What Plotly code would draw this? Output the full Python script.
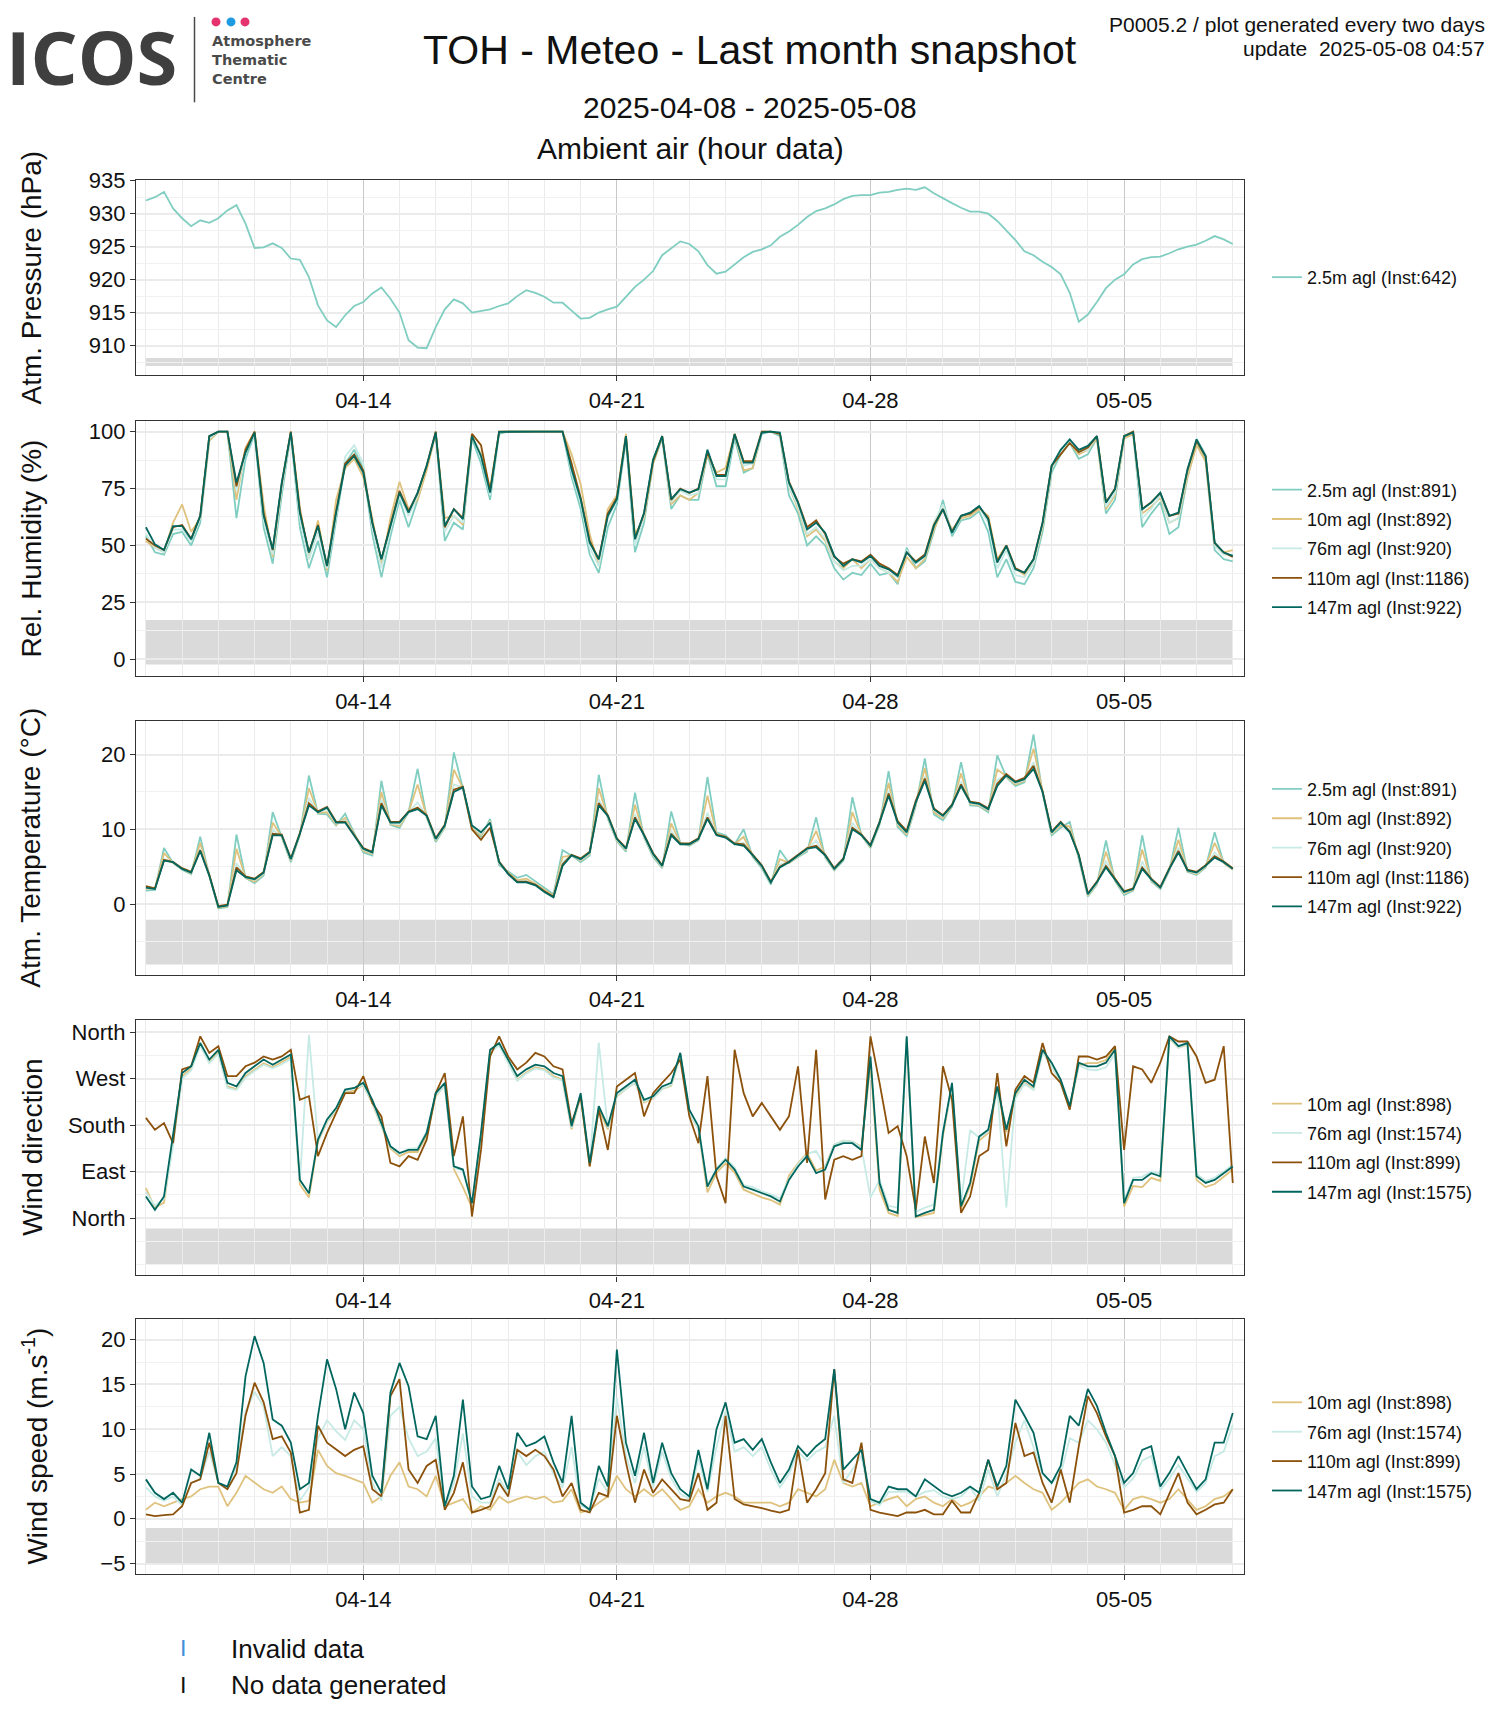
import pandas as pd
import plotly.graph_objects as go

W, H = 1500, 1725
START = "2025-04-08 00:00"
STEP = "6h"

# ---------------- data (6-hourly, 2025-04-08 00:00 -> 2025-05-08 00:00) ----------------
pressure_2_5m = [
    932.0, 932.5, 933.3, 930.8, 929.3, 928.1, 929.0, 928.6, 929.3, 930.5, 931.3, 928.5,
    924.8, 924.9, 925.5, 924.8, 923.2, 923.0, 920.4, 916.1, 913.8, 912.8, 914.6, 916.0,
    916.6, 917.9, 918.8, 917.1, 915.0, 910.8, 909.7, 909.6, 912.8, 915.5, 917.0, 916.4,
    915.0, 915.3, 915.5, 916.0, 916.4, 917.5, 918.4, 918.0, 917.4, 916.5, 916.5, 915.3,
    914.1, 914.2, 915.0, 915.5, 915.9, 917.4, 918.9, 920.0, 921.3, 923.7, 924.8, 925.8,
    925.4, 924.3, 922.2, 920.9, 921.2, 922.3, 923.4, 924.2, 924.6, 925.2, 926.5, 927.3,
    928.3, 929.5, 930.4, 930.8, 931.4, 932.2, 932.7, 932.8, 932.8, 933.2, 933.3, 933.6,
    933.8, 933.6, 934.0, 933.1, 932.3, 931.6, 930.9, 930.3, 930.3, 930.0, 928.9, 927.5,
    926.0, 924.3, 923.7, 922.7, 921.9, 920.8, 918.0, 913.6, 914.7, 916.6, 918.7, 920.0,
    920.8, 922.3, 923.1, 923.4, 923.5, 924.0, 924.6, 925.0, 925.3, 925.9, 926.6, 926.1,
    925.4,
]

rh_2_5m = [
    54, 47, 46, 55, 56, 50, 60, 96, 100, 100, 62, 88, 99, 58, 42, 72, 99, 58, 40, 52,
    36, 60, 86, 92, 84, 55, 36, 54, 70, 58, 70, 84, 99, 52, 60, 57, 97, 86, 70, 99,
    100, 100, 100, 100, 100, 100, 100, 80, 66, 46, 38, 58, 68, 96, 47, 60, 86, 97, 66, 72,
    70, 70, 90, 76, 76, 97, 82, 84, 99, 100, 98, 72, 64, 50, 54, 50, 40, 35, 38, 37,
    42, 37, 38, 33, 49, 40, 43, 56, 70, 54, 61, 62, 65, 56, 36, 44, 34, 33, 40, 56,
    82, 90, 95, 88, 90, 97, 64, 70, 97, 99, 58, 64, 69, 55, 58, 80, 95, 87, 48, 44,
    43,
]
rh_10m = [
    52, 49, 47, 60, 68, 56, 62, 96, 100, 100, 70, 93, 100, 68, 45, 76, 100, 67, 44, 61,
    39, 70, 84, 88, 80, 62, 41, 62, 78, 66, 70, 83, 99, 62, 63, 59, 98, 90, 75, 100,
    100, 100, 100, 100, 100, 100, 100, 90, 77, 55, 41, 66, 72, 99, 55, 62, 86, 98, 68, 72,
    70, 73, 90, 82, 84, 99, 83, 84, 100, 100, 99, 76, 66, 54, 57, 52, 43, 40, 44, 40,
    44, 40, 38, 34, 45, 40, 44, 57, 66, 57, 62, 63, 66, 63, 44, 50, 40, 37, 42, 58,
    84, 91, 95, 90, 92, 97, 66, 72, 97, 99, 64, 67, 71, 60, 62, 80, 94, 87, 50, 47,
    48,
]
rh_76m = [
    55, 49, 47, 57, 57, 52, 62, 97, 100, 100, 74, 91, 99, 61, 46, 75, 99, 62, 44, 56,
    40, 63, 89, 94, 86, 58, 40, 57, 72, 63, 72, 86, 99, 56, 63, 60, 98, 89, 72, 100,
    100, 100, 100, 100, 100, 100, 100, 82, 69, 49, 41, 62, 70, 98, 50, 63, 88, 98, 69, 74,
    72, 73, 92, 79, 79, 99, 85, 86, 100, 100, 99, 76, 67, 55, 58, 53, 43, 39, 41, 41,
    44, 40, 38, 36, 48, 42, 45, 60, 68, 56, 63, 64, 67, 60, 40, 48, 37, 36, 42, 59,
    84, 91, 96, 91, 92, 98, 67, 73, 98, 100, 62, 66, 72, 60, 62, 82, 97, 90, 50, 46,
    46,
]
rh_110m = [
    53, 50, 48, 58, 59, 53, 63, 98, 100, 100, 76, 92, 100, 64, 48, 77, 100, 65, 47, 59,
    41, 65, 86, 90, 83, 60, 44, 59, 74, 65, 73, 85, 100, 58, 66, 62, 99, 94, 74, 100,
    100, 100, 100, 100, 100, 100, 100, 86, 71, 52, 44, 64, 71, 98, 53, 64, 87, 98, 70, 75,
    73, 75, 91, 81, 81, 99, 87, 87, 100, 100, 99, 78, 69, 58, 61, 55, 45, 42, 44, 43,
    46, 42, 40, 37, 47, 43, 46, 59, 66, 56, 63, 64, 67, 62, 43, 50, 40, 38, 44, 60,
    85, 90, 95, 91, 93, 98, 69, 75, 98, 100, 66, 69, 73, 63, 64, 83, 96, 89, 51, 47,
    45,
]
rh_147m = [
    58, 50.5, 48, 58.5, 58.5, 52.7, 63, 98, 100, 100, 77.6, 90.8, 99.6, 63, 48.3, 77.6,
    99.6, 64.4, 46.9, 58.6, 41, 64.4, 85, 89.3, 82, 60, 43.9, 58.6, 73.2, 64.4, 73.2, 85,
    99.6, 58.6, 65.9, 61.5, 98, 89.3, 73.2, 99.9, 100, 100, 100, 100, 100, 100, 100, 83.5,
    70.3, 51.2, 43.9, 63, 70.3, 98, 52.7, 64.4, 87.8, 98, 70.3, 74.7, 73.2, 74.7, 92, 80.5,
    80.5, 98.8, 86.4, 86.4, 99.6, 100, 99.6, 77.6, 68.8, 57, 60, 55.6, 45.4, 41, 43.9, 42.5,
    45.4, 41, 39.5, 36.6, 46.9, 42.5, 45.4, 58.6, 65.9, 55.6, 63, 64.4, 67.3, 61.5, 42.5, 49.8,
    39.5, 38.1, 43.9, 60, 85, 92, 96.6, 92, 93.7, 98, 68.8, 74.7, 98, 99.6, 65.9, 68.8,
    73.2, 63, 64.4, 83.5, 96.6, 89.3, 51.2, 46.9, 45.4,
]

temp_2_5m = [
    1.8, 1.9, 7.5, 5.5, 4.6, 4.0, 9.0, 3.8, -0.6, -0.4, 9.3, 3.5, 2.8, 3.8, 12.3, 8.8,
    5.6, 9.2, 17.2, 12.1, 12.0, 10.5, 12.1, 9.5, 6.9, 6.5, 16.5, 10.6, 10.2, 12.3, 18.1, 11.6,
    8.3, 10.2, 20.3, 15.5, 10.0, 9.0, 11.4, 5.2, 4.4, 3.5, 3.9, 3.0, 2.2, 1.3, 7.2, 6.5,
    5.6, 6.5, 17.3, 11.4, 8.4, 7.0, 14.9, 8.9, 6.3, 4.8, 12.4, 8.2, 7.8, 8.5, 17.0, 9.6,
    9.2, 8.0, 10.0, 6.3, 4.8, 2.6, 7.2, 5.5, 6.3, 7.0, 11.6, 6.2, 4.5, 5.8, 14.3, 9.2,
    7.5, 10.6, 17.8, 10.3, 9.1, 13.1, 19.5, 12.0, 11.2, 13.0, 19.0, 13.2, 13.1, 12.3, 19.9, 17.0,
    15.8, 16.3, 22.7, 14.8, 9.2, 10.2, 11.0, 6.1, 1.0, 2.6, 8.5, 3.1, 1.2, 1.8, 9.2, 3.0,
    2.0, 4.5, 10.2, 4.3, 3.9, 4.9, 9.6, 5.5, 4.6,
]
temp_10m = [
    2.0, 2.0, 6.8, 5.5, 4.7, 4.1, 8.2, 3.8, -0.5, -0.3, 7.4, 3.5, 3.0, 4.0, 10.9, 9.0,
    5.8, 9.3, 15.5, 12.2, 12.3, 10.6, 11.5, 9.3, 7.1, 6.7, 15.0, 10.7, 10.4, 12.3, 16.0, 11.7,
    8.5, 10.3, 18.0, 15.5, 10.2, 9.2, 11.1, 5.4, 4.2, 3.2, 3.4, 2.7, 1.9, 1.1, 6.3, 6.5,
    5.8, 6.7, 15.5, 11.6, 8.5, 7.2, 13.3, 9.0, 6.5, 4.9, 10.8, 8.1, 7.9, 8.6, 14.5, 9.4,
    9.0, 8.0, 9.0, 6.4, 5.0, 2.8, 6.0, 5.5, 6.4, 7.2, 9.8, 6.3, 4.6, 5.9, 12.3, 9.2,
    7.6, 10.8, 16.2, 10.6, 9.3, 13.3, 18.2, 12.3, 11.5, 13.1, 17.5, 13.4, 13.2, 12.5, 18.0, 17.1,
    16.0, 16.5, 20.8, 14.9, 9.4, 10.5, 10.4, 6.3, 1.1, 2.7, 7.0, 3.2, 1.4, 1.9, 7.3, 3.1,
    2.1, 4.6, 8.6, 4.4, 4.0, 5.0, 8.2, 5.5, 4.6,
]
temp_76m = [
    2.1, 2.0, 6.0, 5.6, 4.7, 4.2, 7.4, 3.8, -0.4, -0.2, 5.5, 3.6, 3.2, 4.1, 9.9, 9.1,
    5.9, 9.4, 14.2, 12.3, 12.7, 10.8, 11.2, 9.2, 7.3, 6.8, 14.0, 10.8, 10.7, 12.3, 13.6, 11.8,
    8.6, 10.4, 16.0, 15.6, 10.4, 9.4, 11.0, 5.5, 4.1, 3.0, 3.1, 2.6, 1.7, 1.0, 5.6, 6.5,
    5.9, 6.8, 14.0, 11.7, 8.6, 7.3, 12.0, 9.1, 6.6, 5.0, 9.8, 8.0, 8.0, 8.7, 12.2, 9.3,
    8.9, 8.0, 8.2, 6.5, 5.1, 2.9, 5.3, 5.6, 6.5, 7.3, 8.5, 6.4, 4.7, 6.0, 10.9, 9.2,
    7.7, 10.9, 15.2, 10.8, 9.5, 13.5, 17.1, 12.6, 11.7, 13.2, 16.4, 13.5, 13.3, 12.6, 16.6, 17.2,
    16.2, 16.6, 19.0, 15.0, 9.5, 10.8, 9.9, 6.4, 1.2, 2.8, 5.8, 3.3, 1.5, 2.0, 5.7, 3.2,
    2.2, 4.7, 7.6, 4.5, 4.1, 5.1, 6.9, 5.6, 4.7,
]
temp_110m = [
    2.4, 2.1, 5.9, 5.6, 4.8, 4.3, 7.2, 3.9, -0.3, -0.1, 4.9, 3.7, 3.4, 4.3, 9.4, 9.3,
    6.1, 9.5, 13.5, 12.4, 13.0, 11.0, 11.0, 9.3, 7.5, 7.0, 13.5, 11.0, 11.0, 12.4, 12.9, 11.9,
    8.8, 10.6, 15.3, 15.7, 10.0, 8.6, 10.2, 5.7, 4.1, 3.0, 3.0, 2.6, 1.7, 1.0, 5.3, 6.6,
    6.1, 7.0, 13.5, 11.9, 8.8, 7.5, 11.6, 9.3, 6.8, 5.2, 9.4, 8.1, 8.1, 8.8, 11.6, 9.3,
    9.0, 8.1, 8.0, 6.6, 5.2, 3.0, 5.0, 5.7, 6.6, 7.5, 7.8, 6.6, 4.8, 6.1, 10.2, 9.3,
    7.9, 11.0, 14.8, 11.1, 9.8, 13.8, 16.8, 12.8, 11.9, 13.3, 16.0, 13.7, 13.5, 12.8, 16.1, 17.4,
    16.4, 16.9, 18.5, 15.1, 9.7, 11.0, 9.7, 6.6, 1.4, 3.0, 5.1, 3.4, 1.7, 2.1, 4.9, 3.4,
    2.3, 4.8, 7.1, 4.6, 4.3, 5.2, 6.4, 5.7, 4.8,
]
temp_147m = [
    2.2, 2.0, 5.8, 5.6, 4.7, 4.2, 7.1, 3.8, -0.4, -0.2, 4.5, 3.6, 3.3, 4.2, 9.2, 9.2,
    6.0, 9.4, 13.2, 12.3, 12.9, 10.9, 10.9, 9.2, 7.4, 6.9, 13.2, 10.9, 10.9, 12.3, 12.7, 11.8,
    8.7, 10.5, 15.0, 15.6, 10.5, 9.6, 10.9, 5.6, 4.0, 2.9, 2.9, 2.5, 1.6, 0.9, 5.1, 6.5,
    6.0, 6.9, 13.2, 11.8, 8.7, 7.4, 11.4, 9.2, 6.7, 5.1, 9.2, 8.0, 8.0, 8.7, 11.4, 9.2,
    8.9, 8.0, 7.8, 6.5, 5.1, 2.9, 4.9, 5.6, 6.5, 7.4, 7.6, 6.5, 4.7, 6.0, 10.0, 9.2,
    7.8, 10.9, 14.5, 10.9, 9.6, 13.6, 16.5, 12.7, 11.8, 13.2, 15.8, 13.6, 13.4, 12.7, 15.8, 17.2,
    16.3, 16.7, 18.1, 15.0, 9.6, 10.9, 9.6, 6.5, 1.3, 2.9, 4.9, 3.3, 1.6, 2.0, 4.7, 3.3,
    2.2, 4.7, 6.9, 4.5, 4.2, 5.1, 6.2, 5.6, 4.7,
]

wdir_10m = [
    58, 20, 30, 150, 275, 290, 336, 302, 322, 255, 250, 275, 288, 300, 292, 302,
    312, 65, 40, 148, 186, 208, 244, 247, 258, 222, 178, 135, 120, 128, 128, 160,
    236, 258, 95, 60, 20, 160, 322, 336, 302, 268, 282, 292, 288, 275, 268, 172,
    236, 100, 212, 172, 236, 250, 262, 224, 232, 250, 256, 316, 204, 172, 50, 88,
    106, 88, 55, 48, 40, 35, 26, 82, 106, 126, 92, 100, 142, 150, 148, 138,
    300, 55, 10, 4, 348, 2, 6, 10, 160, 255, 18, 62, 150, 165, 250, 166,
    236, 262, 250, 322, 296, 262, 212, 296, 300, 300, 306, 330, 22, 62, 60, 78,
    72, 348, 330, 336, 74, 60, 66, 80, 94,
]
wdir_76m = [
    50, 24, 38, 140, 270, 286, 334, 300, 318, 252, 248, 272, 285, 297, 290, 298,
    308, 70, 355, 150, 188, 210, 246, 250, 258, 224, 180, 138, 124, 134, 136, 168,
    238, 256, 98, 92, 26, 162, 320, 335, 300, 266, 280, 290, 286, 272, 266, 175,
    238, 104, 340, 175, 238, 250, 262, 226, 232, 250, 258, 318, 206, 172, 64, 96,
    116, 98, 64, 60, 52, 46, 38, 76, 104, 124, 130, 98, 142, 150, 148, 136,
    40, 74, 24, 20, 350, 12, 20, 26, 170, 250, 30, 170, 156, 168, 250, 20,
    232, 260, 248, 320, 294, 260, 214, 296, 288, 286, 292, 318, 34, 78, 80, 90,
    86, 350, 330, 338, 86, 72, 78, 90, 104,
]
wdir_110m = [
    194, 171, 184, 145, 288, 294, 352, 320, 333, 275, 275, 294, 301, 313, 307, 313,
    326, 229, 236, 120, 165, 204, 242, 242, 275, 223, 197, 107, 100, 120, 113, 152,
    242, 281, 120, 197, 3, 132, 313, 352, 313, 288, 301, 320, 313, 294, 288, 184,
    236, 100, 210, 132, 255, 268, 281, 197, 242, 262, 281, 307, 197, 145, 275, 81,
    29, 326, 242, 197, 223, 197, 171, 197, 294, 107, 326, 36, 113, 120, 113, 120,
    352, 262, 165, 178, 120, 16, 158, 68, 294, 229, 10, 42, 120, 132, 281, 139,
    249, 275, 262, 339, 281, 262, 210, 313, 313, 307, 313, 333, 132, 294, 288, 262,
    301, 352, 342, 342, 313, 262, 268, 333, 68,
]
wdir_147m = [
    42, 16, 42, 158, 281, 294, 339, 307, 326, 262, 255, 281, 294, 307, 297, 307,
    317, 74, 48, 152, 191, 213, 249, 252, 262, 229, 184, 139, 126, 132, 132, 165,
    242, 262, 100, 94, 29, 165, 326, 339, 307, 275, 288, 297, 294, 281, 275, 178,
    242, 107, 217, 178, 242, 255, 268, 229, 236, 255, 262, 320, 210, 178, 61, 94,
    113, 94, 61, 55, 48, 42, 32, 74, 100, 120, 87, 94, 139, 145, 145, 132,
    313, 68, 16, 10, 352, 3, 10, 16, 165, 262, 23, 68, 158, 171, 255, 171,
    242, 268, 255, 326, 301, 268, 217, 301, 294, 294, 301, 326, 29, 74, 74, 87,
    81, 352, 333, 339, 81, 68, 74, 87, 100,
]

wspd_10m = [
    1.0, 1.8, 1.4, 1.8, 2.2, 2.5, 3.3, 3.6, 3.6, 1.4, 2.9, 4.8, 4.0, 3.3, 2.9, 3.6,
    2.2, 1.8, 2.0, 7.7, 5.9, 5.1, 4.8, 4.4, 4.0, 1.8, 2.5, 4.8, 6.3, 3.6, 3.3, 2.5,
    4.8, 1.4, 1.8, 2.2, 0.7, 1.4, 1.0, 2.5, 1.8, 2.2, 2.5, 2.2, 2.5, 1.8, 2.0, 3.3,
    0.7, 1.0, 1.8, 2.5, 4.8, 3.3, 2.5, 3.3, 2.5, 3.3, 2.2, 1.0, 1.4, 3.3, 1.8, 2.5,
    2.9, 2.5, 1.8, 1.8, 1.8, 1.8, 1.4, 1.8, 3.3, 2.9, 2.5, 3.3, 6.6, 4.0, 3.6, 4.0,
    1.4, 1.8, 2.2, 2.5, 1.4, 2.2, 2.5, 1.8, 1.4, 2.2, 1.4, 1.8, 2.5, 3.6, 3.3, 4.0,
    4.8, 4.0, 3.3, 2.9, 1.0, 1.8, 2.9, 4.0, 4.4, 3.6, 3.3, 2.9, 1.0, 2.2, 2.5, 2.2,
    1.8, 2.2, 3.3, 2.2, 1.0, 1.4, 2.2, 2.5, 3.3,
]
wspd_76m = [
    3.5, 2.5, 2.0, 2.5, 1.5, 4.0, 4.5, 7.5, 4.0, 3.4, 5.8, 12.0, 14.2, 12.5, 7.0, 8.0,
    7.0, 2.0, 3.5, 9.0, 11.0, 9.8, 8.8, 11.0, 10.0, 4.0, 2.0, 11.5, 12.5, 9.0, 7.0, 7.5,
    9.0, 1.2, 4.0, 9.5, 2.5, 1.8, 1.8, 4.5, 2.8, 7.5, 6.0, 7.0, 7.5, 5.0, 3.5, 8.0,
    1.5, 1.0, 4.5, 3.0, 13.5, 7.0, 4.0, 8.0, 3.5, 7.5, 4.5, 2.8, 2.2, 6.8, 3.0, 8.0,
    12.0, 7.5, 8.0, 7.0, 8.0, 5.5, 3.5, 5.0, 7.5, 6.5, 7.5, 8.0, 11.5, 4.0, 5.5, 7.0,
    2.0, 1.5, 3.0, 3.0, 3.0, 2.5, 3.0, 3.2, 2.5, 2.2, 2.5, 3.5, 2.0, 5.5, 2.5, 5.0,
    8.5, 11.0, 8.0, 5.0, 4.0, 5.0, 9.0, 8.5, 11.0, 10.0, 8.5, 6.0, 3.5, 4.5, 6.5, 7.0,
    3.2, 4.5, 6.0, 4.5, 3.0, 4.0, 7.0, 7.5, 10.5,
]
wspd_110m = [
    0.5, 0.3, 0.4, 0.5, 1.4, 4.0, 4.4, 8.5, 4.0, 3.3, 5.1, 11.5, 15.2, 13.0, 8.9, 9.2,
    7.4, 0.7, 1.0, 10.4, 8.5, 7.7, 7.0, 7.7, 8.1, 3.3, 2.5, 13.7, 15.6, 5.5, 4.0, 5.9,
    6.6, 1.0, 2.9, 6.3, 0.7, 1.0, 1.4, 4.0, 2.5, 7.7, 7.0, 7.7, 7.0, 5.5, 2.5, 4.0,
    1.0, 0.7, 2.9, 2.5, 11.5, 6.3, 1.8, 5.5, 2.9, 4.4, 3.3, 2.2, 2.0, 5.1, 1.0, 1.8,
    11.5, 2.2, 1.6, 1.4, 1.2, 0.9, 0.7, 1.0, 7.7, 1.8, 3.3, 5.1, 16.7, 4.4, 4.0, 8.5,
    1.0, 0.7, 0.5, 0.3, 0.7, 0.7, 1.0, 0.5, 0.5, 2.0, 0.7, 0.7, 2.9, 6.6, 3.3, 4.0,
    10.7, 7.0, 7.4, 4.0, 1.8, 5.5, 1.8, 8.1, 13.7, 11.8, 9.2, 7.0, 0.7, 1.0, 1.4, 1.4,
    0.5, 2.9, 5.1, 1.8, 0.5, 1.0, 1.6, 1.8, 3.3,
]
wspd_147m = [
    4.4, 2.9, 2.2, 2.9, 1.8, 5.5, 4.8, 9.6, 4.0, 3.6, 6.3, 15.9, 20.4, 17.4, 11.1, 10.4,
    8.5, 3.3, 4.0, 11.5, 17.8, 14.5, 10.0, 14.1, 11.8, 4.8, 2.9, 14.1, 17.4, 14.8, 9.2, 8.9,
    11.5, 1.4, 4.8, 13.3, 3.6, 2.2, 2.5, 5.9, 3.3, 9.6, 8.1, 8.5, 9.2, 6.3, 4.0, 11.5,
    1.8, 1.0, 5.9, 3.6, 18.9, 8.5, 4.8, 9.6, 4.0, 8.5, 5.1, 3.3, 2.5, 7.7, 3.3, 10.0,
    13.0, 8.5, 8.9, 7.7, 8.9, 6.3, 4.0, 5.5, 8.1, 7.0, 8.1, 8.9, 16.7, 5.5, 6.6, 7.7,
    2.2, 1.8, 3.6, 3.3, 3.3, 2.5, 4.4, 3.6, 2.9, 2.5, 2.9, 3.6, 2.9, 6.6, 3.6, 5.9,
    13.3, 11.5, 9.6, 5.1, 4.0, 5.9, 11.5, 10.4, 14.5, 12.6, 9.6, 7.0, 4.0, 5.1, 7.7, 8.1,
    3.6, 5.1, 7.0, 5.1, 3.3, 4.4, 8.5, 8.5, 11.8,
]

inst_pressure = {"2.5m": 642}
inst_ambient = {"2.5m": 891, "10m": 892, "76m": 920, "110m": 1186, "147m": 922}
inst_wind = {"10m": 898, "76m": 1574, "110m": 899, "147m": 1575}
dir_ticks = [0, 90, 180, 270, 360]
dir_labels = ["North", "East", "South", "West", "North"]
week_ticks = ["2025-04-14", "2025-04-21", "2025-04-28", "2025-05-05"]

# ---------------- styling ----------------
COLORS = {"2.5m": "#80CDC1", "10m": "#DFC27D", "76m": "#C7EAE5",
          "110m": "#8C510A", "147m": "#01665E"}
FONT = "Liberation Sans, Arial, Helvetica, sans-serif"


def tgrid(values):
    return pd.date_range(START, periods=len(values), freq=STEP)


def fx(p):
    return p / W


def fy(p):
    return 1 - p / H


X_RANGE = ["2025-04-07 17:27", "2025-05-08 07:26"]
PLOT_L, PLOT_R = 136, 1244

panels = [
    dict(series={"2.5m": pressure_2_5m}, inst=inst_pressure, top=170, bot=367,
         rng=[905.5, 935.15], band=[906.9, 908.1], dtick=5, tick0=910, minor=2.5,
         title="Atm. Pressure (hPa)", tx=31),
    dict(series={"2.5m": rh_2_5m, "10m": rh_10m, "76m": rh_76m, "110m": rh_110m, "147m": rh_147m},
         inst=inst_ambient, top=413, bot=670, rng=[-7.3, 104.7], band=[-2.3, 17.3],
         dtick=25, tick0=0, minor=12.5, title="Rel. Humidity (%)", tx=31),
    dict(series={"2.5m": temp_2_5m, "10m": temp_10m, "76m": temp_76m, "110m": temp_110m, "147m": temp_147m},
         inst=inst_ambient, top=715, bot=971, rng=[-9.46, 24.55], band=[-8.1, -2.1],
         dtick=10, tick0=0, minor=5, title="Atm. Temperature (°C)", tx=31),
    dict(series={"10m": wdir_10m, "76m": wdir_76m, "110m": wdir_110m, "147m": wdir_147m},
         inst=inst_wind, top=1017, bot=1274, rng=[-111, 383], band=[-91, -20],
         dtick=90, tick0=0, minor=45, title="Wind direction", cat=True, tx=33),
    dict(series={"10m": wspd_10m, "76m": wspd_76m, "110m": wspd_110m, "147m": wspd_147m},
         inst=inst_wind, top=1318, bot=1575, rng=[-6.18, 22.3], band=[-5.14, -1.04],
         dtick=5, tick0=0, minor=2.5, title="Wind speed (m.s<sup>-1</sup>)", tx=35),
]

fig = go.Figure()
layout = dict(
    width=W, height=H, margin=dict(l=0, r=0, t=0, b=0),
    paper_bgcolor="white", plot_bgcolor="white",
    font=dict(family=FONT, color="#111111"),
)
shapes = []
annotations = []

for k, p in enumerate(panels, start=1):
    xa = "x" if k == 1 else f"x{k}"
    ya = "y" if k == 1 else f"y{k}"
    leg = "legend" if k == 1 else f"legend{k}"
    first_t = None
    last_t = None
    for h, vals in p["series"].items():
        t = tgrid(vals)
        first_t = t[0] if first_t is None else min(first_t, t[0])
        last_t = t[-1] if last_t is None else max(last_t, t[-1])
        fig.add_trace(go.Scatter(
            x=t, y=vals, mode="lines", name=f"{h} agl (Inst:{p['inst'][h]})",
            line=dict(color=COLORS[h], width=1.8), xaxis=xa, yaxis=ya,
            legend=leg, legendgroup=f"{k}-{h}", showlegend=True,
        ))
    # gray availability band
    shapes.append(dict(type="rect", xref=xa, yref=ya, x0=first_t, x1=last_t,
                       y0=p["band"][0], y1=p["band"][1], fillcolor="#DADADA",
                       line=dict(width=0), layer="below"))
    dom_y = [fy(p["bot"]), fy(p["top"])]
    xkey = "xaxis" if k == 1 else f"xaxis{k}"
    ykey = "yaxis" if k == 1 else f"yaxis{k}"
    layout[xkey] = dict(
        domain=[fx(PLOT_L), fx(PLOT_R)], anchor=ya, type="date", range=X_RANGE,
        tickvals=week_ticks, tickformat="%m-%d", ticks="outside", ticklen=5,
        tickcolor="#333333", tickfont=dict(size=22, color="#111111"),
        showgrid=True, gridcolor="#C8C8C8", gridwidth=1.4,
        showline=True, mirror=True, linecolor="#333333", linewidth=1.4,
        zeroline=False,
        minor=dict(tick0="2025-04-08", dtick=86400000, showgrid=True,
                   gridcolor="#EBEBEB", gridwidth=1.1, ticks=""),
    )
    ydict = dict(
        domain=dom_y, anchor=xa, range=p["rng"], ticks="outside", ticklen=5,
        tickcolor="#333333", tickfont=dict(size=22, color="#111111"),
        showgrid=True, gridcolor="#EBEBEB", gridwidth=1.8,
        showline=True, mirror=True, linecolor="#333333", linewidth=1.4,
        zeroline=False,
        minor=dict(tick0=p["tick0"], dtick=p["minor"], showgrid=True,
                   gridcolor="#F1F1F1", gridwidth=1.1, ticks=""),
    )
    if p.get("cat"):
        ydict.update(tickmode="array", tickvals=dir_ticks, ticktext=dir_labels)
    else:
        ydict.update(tick0=p["tick0"], dtick=p["dtick"])
    layout[ykey] = ydict
    layout[leg] = dict(
        x=fx(1267), xanchor="left", y=fy((p["top"] + p["bot"]) / 2), yanchor="middle",
        bgcolor="rgba(0,0,0,0)", font=dict(size=18, color="#111111"),
        traceorder="grouped", tracegroupgap=3, itemwidth=30,
    )
    annotations.append(dict(
        text=p["title"], xref="paper", yref="paper", x=fx(p["tx"]),
        y=fy((p["top"] + p["bot"]) / 2), textangle=-90, showarrow=False,
        xanchor="center", yanchor="middle", font=dict(size=28, color="#111111"),
    ))

# titles
for txt, xx, yy, sz in [("TOH - Meteo - Last month snapshot", 750, 39, 41),
                        ("2025-04-08 - 2025-05-08", 750, 97, 30),
                        ("Ambient air (hour data)", 690, 139, 30)]:
    annotations.append(dict(text=txt, x=fx(xx), y=fy(yy), xref="paper", yref="paper",
                            showarrow=False, xanchor="center", yanchor="middle",
                            font=dict(size=sz)))

for txt, yy in [("P0005.2 / plot generated every two days", 14),
                ("update\u00a0\u00a02025-05-08 04:57", 38)]:
    annotations.append(dict(text=txt, x=fx(1487), y=fy(yy), xref="paper", yref="paper",
                            showarrow=False, xanchor="right", yanchor="middle",
                            font=dict(size=21)))

# logo
annotations.append(dict(text="<b>ICOS</b>", x=fx(4), y=fy(46), xref="paper", yref="paper",
                        showarrow=False, xanchor="left", yanchor="middle",
                        font=dict(size=74, color="#3F3F3F", family="Open Sans, sans-serif")))
annotations.append(dict(text="<b>Atmosphere<br>Thematic<br>Centre</b>", x=fx(210), y=fy(49),
                        xref="paper", yref="paper", showarrow=False, xanchor="left",
                        yanchor="middle", align="left",
                        font=dict(size=14.5, color="#4A4A4A", family="DejaVu Sans, sans-serif")))
shapes.append(dict(type="line", xref="paper", yref="paper", x0=fx(194.5), x1=fx(194.5),
                   y0=fy(6), y1=fy(92), line=dict(color="#4A4A4A", width=1.5)))
for cx, col in [(216, "#E5336F"), (231, "#1E9BE0"), (245, "#E5336F")]:
    shapes.append(dict(type="circle", xref="paper", yref="paper",
                       x0=fx(cx - 4.5), x1=fx(cx + 4.5), y0=fy(11 + 4.5), y1=fy(11 - 4.5),
                       fillcolor=col, line=dict(width=0)))

# bottom legend
for yy, col, txt in [(1650, "#3F8FD8", "Invalid data"), (1687, "#111111", "No data generated")]:
    annotations.append(dict(text="I", x=fx(183), y=fy(yy), xref="paper", yref="paper",
                            showarrow=False, xanchor="center", yanchor="middle",
                            font=dict(size=22, color=col, family="DejaVu Sans")))
    annotations.append(dict(text=txt, x=fx(229), y=fy(yy), xref="paper", yref="paper",
                            showarrow=False, xanchor="left", yanchor="middle",
                            font=dict(size=26, color="#111111")))

layout["shapes"] = shapes
layout["annotations"] = annotations
fig.update_layout(**layout)
fig.write_html("out.html", config={"displayModeBar": False},
               post_script="document.body.style.margin='0';document.body.style.overflow='hidden';")
